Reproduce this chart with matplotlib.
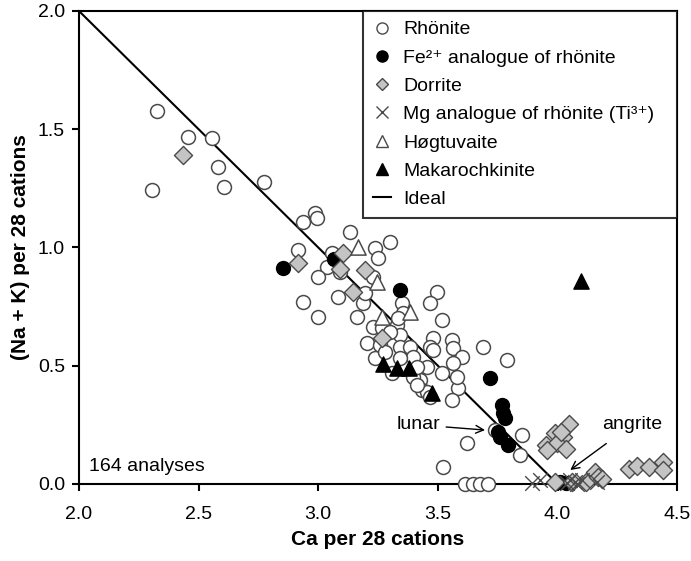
import matplotlib
matplotlib.use("Agg")
import matplotlib.pyplot as plt
from matplotlib.lines import Line2D

plt.rcParams['font.family'] = ['Liberation Sans', 'DejaVu Sans']

# Rhönite (open circles)
rho_ca = [2.326, 2.305, 2.456, 2.556, 2.581, 2.606, 2.773, 2.987, 2.936, 2.995,
          3.133, 2.916, 3.300, 3.237, 3.250, 3.058, 3.037, 2.999, 3.091, 2.936,
          2.999, 3.083, 3.187, 3.196, 3.162, 3.229, 3.267, 3.350, 3.355, 3.329,
          3.342, 3.497, 3.467, 3.518, 3.204, 3.258, 3.237, 3.279, 3.342, 3.384,
          3.396, 3.342, 3.480, 3.467, 3.559, 3.564, 3.601, 3.564, 3.455, 3.518,
          3.426, 3.434, 3.455, 3.584, 3.559, 3.689, 3.789, 3.309, 3.396, 3.622,
          3.522, 3.852, 3.844, 3.739, 3.614, 3.647, 3.676, 3.710, 3.229, 3.413,
          3.580, 3.334, 3.300, 3.480, 3.413, 3.467]
rho_nak = [1.577, 1.243, 1.467, 1.463, 1.340, 1.256, 1.277, 1.146, 1.108, 1.125,
           1.066, 0.989, 1.023, 0.998, 0.956, 0.977, 0.918, 0.875, 0.896, 0.770,
           0.706, 0.791, 0.765, 0.808, 0.706, 0.664, 0.660, 0.765, 0.723, 0.672,
           0.630, 0.812, 0.765, 0.693, 0.596, 0.588, 0.533, 0.558, 0.579, 0.579,
           0.537, 0.533, 0.617, 0.579, 0.609, 0.575, 0.537, 0.512, 0.495, 0.469,
           0.440, 0.397, 0.389, 0.406, 0.355, 0.579, 0.524, 0.469, 0.452, 0.173,
           0.072, 0.207, 0.123, 0.228, 0.0, 0.0, 0.0, 0.0, 0.875, 0.495,
           0.452, 0.702, 0.643, 0.567, 0.419, 0.368]

# Fe2+ analogue of rhönite (filled circles)
fe_ca = [2.853, 3.066, 3.342, 3.718, 3.768, 3.781, 3.752, 3.794, 4.011, 4.036, 3.770, 3.760]
fe_nak = [0.913, 0.951, 0.820, 0.448, 0.334, 0.279, 0.220, 0.165, 0.008, 0.004, 0.300, 0.200]

# Dorrite (grey diamonds)
dor_ca = [2.435, 2.916, 3.104, 3.091, 3.196, 3.145, 3.267,
          4.048, 3.990, 4.023, 3.952, 3.998, 4.036, 3.956, 4.015,
          3.990, 4.120, 4.157, 4.170, 4.186, 4.060,
          4.299, 4.332, 4.383, 4.441, 4.441]
dor_nak = [1.391, 0.934, 0.977, 0.909, 0.905, 0.812, 0.617,
           0.254, 0.216, 0.199, 0.165, 0.173, 0.148, 0.144, 0.220,
           0.010, 0.010, 0.050, 0.030, 0.020, 0.010,
           0.063, 0.076, 0.072, 0.093, 0.059]

# Mg analogue of rhönite (Ti3+) (crosses)
mg_ca = [3.894, 3.927, 4.053, 4.074, 4.103, 4.166, 4.040, 4.080]
mg_nak = [0.004, 0.017, 0.017, 0.008, 0.017, 0.008, 0.005, 0.000]

# Høgtuvaite (open triangles)
hog_ca = [3.166, 3.246, 3.384, 3.267]
hog_nak = [1.002, 0.854, 0.727, 0.706]

# Makarochkinite (filled triangles)
mak_ca = [3.271, 3.329, 3.380, 3.476, 4.099]
mak_nak = [0.507, 0.490, 0.490, 0.385, 0.858]

# Ideal line
ideal_ca = [2.0, 4.0]
ideal_nak = [2.0, 0.0]

fig = plt.figure(figsize=(6.91, 5.61), dpi=100)
ax = fig.add_axes([0.1143, 0.1373, 0.8657, 0.8431])

edge = '#4a4a4a'
ms = 100
ax.plot(ideal_ca, ideal_nak, color='black', lw=1.5, zorder=2)
ax.scatter(rho_ca, rho_nak, s=ms, marker='o', facecolor='white', edgecolor=edge, lw=1.1, zorder=3, clip_on=False)
ax.scatter(fe_ca, fe_nak, s=ms, marker='o', facecolor='black', edgecolor='black', lw=1.0, zorder=4, clip_on=False)
ax.scatter(dor_ca, dor_nak, s=85, marker='D', facecolor='#c4c4c4', edgecolor=edge, lw=1.0, zorder=4, clip_on=False)
ax.scatter(mg_ca, mg_nak, s=110, marker='x', color=edge, lw=1.0, zorder=4, clip_on=False)
ax.scatter(hog_ca, hog_nak, s=120, marker='^', facecolor='white', edgecolor=edge, lw=1.1, zorder=4, clip_on=False)
ax.scatter(mak_ca, mak_nak, s=120, marker='^', facecolor='black', edgecolor='black', lw=1.0, zorder=4, clip_on=False)

ax.set_xlim(2.0, 4.5)
ax.set_ylim(0.0, 2.0)
ax.set_xticks([2.0, 2.5, 3.0, 3.5, 4.0, 4.5])
ax.set_yticks([0.0, 0.5, 1.0, 1.5, 2.0])
ax.set_xticklabels(['2.0', '2.5', '3.0', '3.5', '4.0', '4.5'])
ax.set_yticklabels(['0.0', '0.5', '1.0', '1.5', '2.0'])
ax.tick_params(direction='out', length=5, width=1.5, labelsize=14)
ax.tick_params(axis='x', pad=11)
ax.tick_params(axis='y', pad=5)
for s in ax.spines.values():
    s.set_linewidth(1.5)

ax.set_xlabel('Ca per 28 cations', fontsize=15, fontweight='bold', labelpad=5)
ax.set_ylabel('(Na + K) per 28 cations', fontsize=15, fontweight='bold', labelpad=6)

ax.text(2.04, 0.076, '164 analyses', fontsize=14, ha='left', va='center')
ax.annotate('lunar', xy=(3.697, 0.228), xytext=(3.42, 0.25), fontsize=14,
            ha='center', va='center',
            arrowprops=dict(arrowstyle='->', color='black', lw=1.0, shrinkA=2, shrinkB=0))
ax.annotate('angrite', xy=(4.053, 0.059), xytext=(4.31, 0.25), fontsize=14,
            ha='center', va='center',
            arrowprops=dict(arrowstyle='->', color='black', lw=1.0, shrinkA=9, shrinkB=0))

handles = [
    Line2D([], [], ls='none', marker='o', ms=8, mfc='white', mec=edge, mew=1.0),
    Line2D([], [], ls='none', marker='o', ms=8, mfc='black', mec='black'),
    Line2D([], [], ls='none', marker='D', ms=6.5, mfc='#c4c4c4', mec=edge, mew=1.0),
    Line2D([], [], ls='none', marker='x', ms=8, mec=edge, mew=1.0),
    Line2D([], [], ls='none', marker='^', ms=9, mfc='white', mec=edge, mew=1.0),
    Line2D([], [], ls='none', marker='^', ms=9, mfc='black', mec='black'),
    Line2D([], [], color='black', lw=1.5),
]
labels = ['Rhönite', 'Fe²⁺ analogue of rhönite', 'Dorrite',
          'Mg analogue of rhönite (Ti³⁺)', 'Høgtuvaite', 'Makarochkinite', 'Ideal']
leg = ax.legend(handles, labels, loc='upper left', bbox_to_anchor=(0.475, 0.0, 0.525, 1.0),
                mode='expand', borderaxespad=0.0, fontsize=14, frameon=True, fancybox=False,
                edgecolor='black', handlelength=0.95, handletextpad=0.6, labelspacing=0.55,
                borderpad=0.5)
leg.get_frame().set_linewidth(1.5)

fig.savefig('out.png', dpi=100)
